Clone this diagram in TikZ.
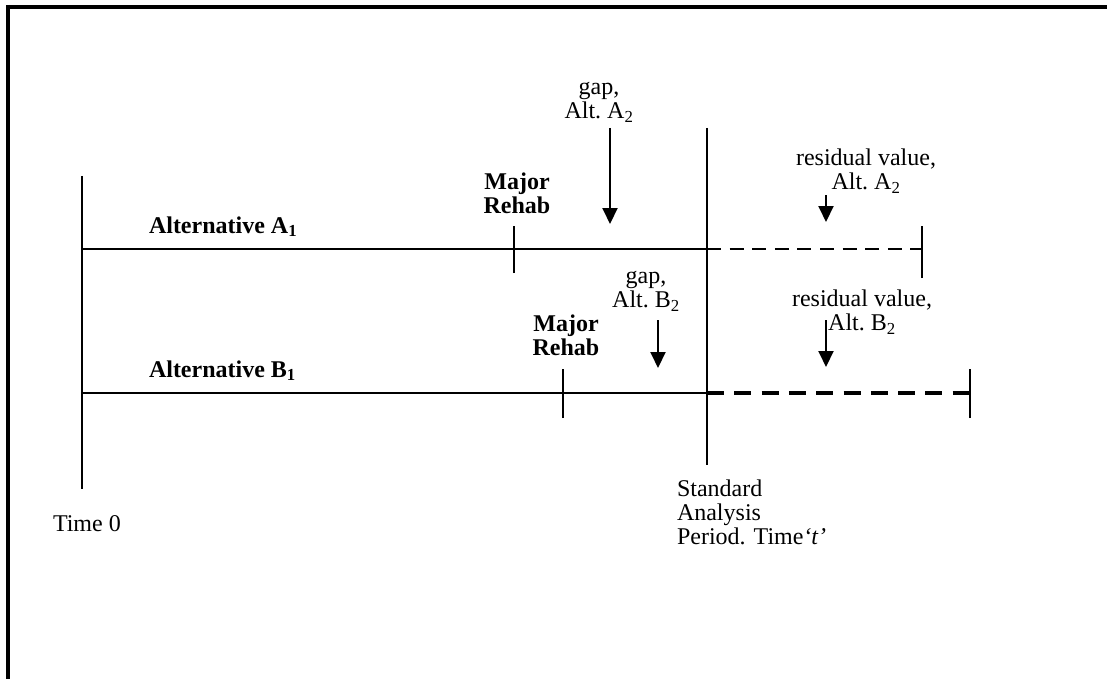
\documentclass[tikz,border=0pt]{standalone}
\usepackage{fontspec}
\setmainfont{Liberation Serif}
\usetikzlibrary{arrows.meta,positioning}
\definecolor{inkline}{RGB}{0,0,0}
\newcommand{\altlbl}[2]{Alt.~#1\textsubscript{#2}}

\begin{document}
\begin{tikzpicture}[x=1pt,y=-1pt,
    every node/.style={font=\fontsize{24}{24}\selectfont,inner sep=0pt,outer sep=0pt},
    tline/.style={inkline,line width=2pt},
    tickmark/.style={inkline,line width=2pt},
    pointer/.style={inkline,line width=2pt,-{Triangle[width=15pt,length=16pt]}},
    rehab/.style={font=\fontsize{24}{24}\selectfont\bfseries,align=center},
    note/.style={align=center}]
  \useasboundingbox (0,0) rectangle (1107,679);
  % ---- frame (top and left edges only)
  \draw[inkline,line width=4pt] (6,7) -- (1107,7);
  \draw[inkline,line width=4pt] (8,5) -- (8,679);
  % ---- time axes
  \coordinate (t0top) at (82,176);
  \coordinate (t0bot) at (82,489);
  \coordinate (sttop) at (707,128);
  \coordinate (stbot) at (707,465);
  \draw[tline] (t0top) -- (t0bot);
  \draw[tline] (sttop) -- (stbot);
  \node[anchor=base west] (time0) at (53,531) {Time 0};
  \node[anchor=north west,align=left] (stdper) at (677,480)
      {Standard\\Analysis\\Period. Time\textit{`t'}};
  % ---- Alternative A
  \coordinate (aS) at (82,249);
  \coordinate (aT) at (707,249);
  \coordinate (aE) at (922,249);
  \draw[tline] (aS) -- (aT);
  \draw[inkline,line width=2.5pt,dash pattern=on 14pt off 8.6pt] (aT) -- (aE);
  \draw[tickmark] ([yshift=-29pt]aE) -- ([yshift=23pt]aE);
  \coordinate (rA) at (514,249);
  \draw[tickmark] ([yshift=-24pt]rA) -- ([yshift=23pt]rA);
  \node[anchor=base west,font=\fontsize{24}{24}\selectfont\bfseries] (altA) at (149,233)
      {Alternative A\textsubscript{1}};
  \node[rehab] (rehabA) at (517,193) {Major\\Rehab};
  \node[note] (gapA) at (599,102) {gap,\\\altlbl{A}{2}};
  \node[note] (resA) at (866,171) {residual value,\\\altlbl{A}{2}};
  \coordinate (gapAtail) at (610,128);
  \coordinate (gapAtip) at (610,224);
  \coordinate (resAtail) at (826,195);
  \coordinate (resAtip) at (826,222);
  \draw[pointer] (gapAtail) -- (gapAtip);
  \draw[pointer] (resAtail) -- (resAtip);
  % ---- Alternative B
  \coordinate (bS) at (82,393);
  \coordinate (bT) at (707,393);
  \coordinate (bE) at (970,393);
  \draw[tline] (bS) -- (bT);
  \draw[inkline,line width=4pt,dash pattern=on 17pt off 10.3pt] (bT) -- (bE);
  \draw[tickmark] ([yshift=-25pt]bE) -- ([yshift=24pt]bE);
  \coordinate (rB) at (563,393);
  \draw[tickmark] ([yshift=-25pt]rB) -- ([yshift=24pt]rB);
  \node[anchor=base west,font=\fontsize{24}{24}\selectfont\bfseries] (altB) at (149,377)
      {Alternative B\textsubscript{1}};
  \node[rehab] (rehabB) at (566,335) {Major\\Rehab};
  \node[note] (gapB) at (646,291) {gap,\\\altlbl{B}{2}};
  \node[note] (resB) at (862,312) {residual value,\\\altlbl{B}{2}};
  \coordinate (gapBtail) at (658,320);
  \coordinate (gapBtip) at (658,368);
  \coordinate (resBtail) at (826,320);
  \coordinate (resBtip) at (826,367);
  \draw[pointer] (gapBtail) -- (gapBtip);
  \draw[pointer] (resBtail) -- (resBtip);
\end{tikzpicture}
\end{document}
